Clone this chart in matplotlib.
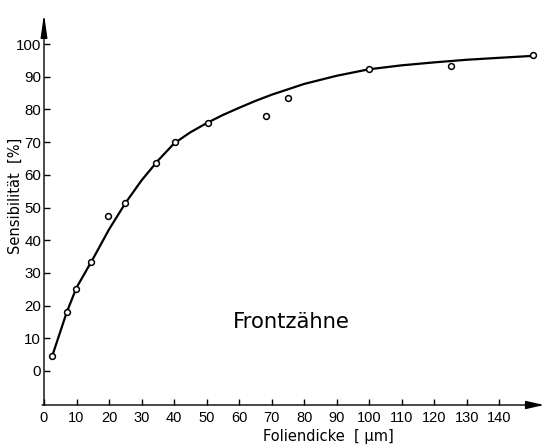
import matplotlib
matplotlib.use("Agg")
import matplotlib.pyplot as plt

# Measured sensitivity against foil thickness (front teeth)
foil_um = [2.5, 7.0, 9.7, 14.5, 19.8, 25.0, 34.3, 40.2, 50.5, 68.3, 75.2, 100.1, 125.1, 150.5]
sens_pct = [4.6, 18.0, 25.0, 33.3, 47.3, 51.5, 63.5, 70.2, 75.9, 78.1, 83.4, 92.4, 93.3, 96.6]

# Hand-drawn trend curve through the measurements
curve_x = [2.5, 7, 10, 15, 20, 25, 30, 35, 40, 45, 50, 55, 60, 65, 70, 80, 90,
           100, 110, 120, 130, 140, 150.5]
curve_y = [4.5, 18.0, 25.5, 34.2, 43.3, 51.3, 58.3, 64.3, 69.6, 73.0, 75.8, 78.3,
           80.5, 82.6, 84.5, 87.8, 90.3, 92.3, 93.5, 94.4, 95.2, 95.8, 96.4]

x_ticks = list(range(0, 150, 10))
y_ticks = list(range(0, 101, 10))

fig = plt.figure(figsize=(5.44, 4.45), dpi=100)
W, H = 544, 445
x_min, x_max = 0.0, 153.8
y_min, y_max = -10.4, 109.2
ax = fig.add_axes([44 / W, (H - 405) / H, 500 / W, 391 / H])
ax.set_xlim(x_min, x_max)
ax.set_ylim(y_min, y_max)

for s in ax.spines.values():
    s.set_visible(False)

# Axes drawn as arrows
arrow_kw = dict(shrinkA=0, shrinkB=0, color="black", lw=1.0, mutation_scale=10)
ax.annotate("", xy=(x_max, y_min), xytext=(-0.6, y_min), annotation_clip=False,
            arrowprops=dict(arrowstyle="-|>,head_length=1.1,head_width=0.25", **arrow_kw))
ax.annotate("", xy=(0, y_max), xytext=(0, y_min), annotation_clip=False,
            arrowprops=dict(arrowstyle="-|>,head_length=1.4,head_width=0.2", **arrow_kw))

ax.plot(curve_x, curve_y, color="black", lw=1.6, solid_capstyle="round",
        solid_joinstyle="round", zorder=3)
ax.plot(foil_um, sens_pct, linestyle="none", marker="o", markersize=4.2,
        markerfacecolor="white", markeredgecolor="black", markeredgewidth=1.1, zorder=4)

ax.set_xticks(x_ticks)
ax.set_xticklabels([str(v) for v in x_ticks])
ax.set_yticks(y_ticks)
ax.set_yticklabels([str(v) for v in y_ticks])
ax.tick_params(axis="x", direction="in", length=4, width=1.0, pad=4, labelsize=10.5)
ax.tick_params(axis="y", direction="in", length=4, width=1.0, pad=2, labelsize=10.8)
for lab in ax.get_xticklabels():
    lab.set_family(["Liberation Sans", "DejaVu Sans"])
for lab in ax.get_yticklabels():
    lab.set_family(["Liberation Sans", "DejaVu Sans"])

fig.text(328 / W, 1 - 444.5 / H, "Foliendicke  [ µm]", ha="center", va="bottom",
         fontsize=10.5, family="DejaVu Sans")
fig.text(15.5 / W, 1 - 196 / H, "Sensibilität  [%]", ha="center", va="center",
         rotation=90, fontsize=10.5, family="DejaVu Sans")
ax.text(233 / W, 1 - 322 / H, "Frontzähne", ha="left", va="center",
        fontsize=15.2, family="DejaVu Sans", transform=fig.transFigure)

fig.savefig("out.png", dpi=100, facecolor="white")
